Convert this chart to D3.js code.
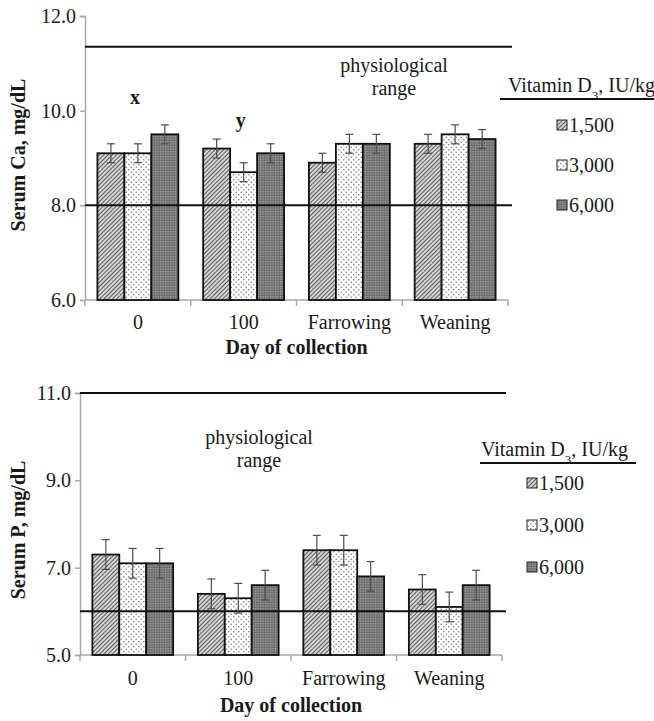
<!DOCTYPE html>
<html>
<head>
<meta charset="utf-8">
<script src="https://cdn.jsdelivr.net/npm/d3@7"></script>
<style>
  body { margin: 0; background: #fff; }
  svg text { font-family: 'Liberation Serif', 'Times New Roman', serif; fill: #1a1a1a; }
  .axis path, .axis line { stroke: #a9a9a9; stroke-width: 1.5; }
  .bold { font-weight: bold; }
</style>
</head>
<body>
<svg id="chart" width="654" height="721"></svg>
<script>
// ---- data ----
const categories = ["0", "100", "Farrowing", "Weaning"];
const doses = ["1,500", "3,000", "6,000"];

// serum Ca, mg/dL (rows = day, cols = dose)
const caMeans = [[9.1, 9.1, 9.5], [9.2, 8.7, 9.1], [8.9, 9.3, 9.3], [9.3, 9.5, 9.4]];
const caErrors = [[0.2, 0.2, 0.2], [0.2, 0.2, 0.2], [0.2, 0.2, 0.2], [0.2, 0.2, 0.2]];
const caTicks = [6, 8, 10, 12];
const caRange = [8.0, 11.35];
const caLetters = [["0", "x", 10.15], ["100", "y", 9.65]];

// serum P, mg/dL
const pMeans = [[7.3, 7.1, 7.1], [6.4, 6.3, 6.6], [7.4, 7.4, 6.8], [6.5, 6.1, 6.6]];
const pErrors = [[0.34, 0.34, 0.34], [0.34, 0.34, 0.34], [0.34, 0.34, 0.34], [0.34, 0.34, 0.34]];
const pTicks = [5, 7, 9, 11];
const pRange = [6.0, 11.0];
const pLetters = [];

const patternIds = ["p1500", "p3000", "p6000"];
const fs = "20px";

const svg = d3.select("#chart");

// ---- fill patterns ----
const defs = svg.append("defs");

const p1 = defs.append("pattern").attr("id", "p1500")
  .attr("patternUnits", "userSpaceOnUse").attr("width", 3).attr("height", 3)
  .attr("patternTransform", "rotate(45)");
p1.append("rect").attr("width", 3).attr("height", 3).attr("fill", "#d4d4d4");
p1.append("line").attr("x1", 0.5).attr("y1", 0).attr("x2", 0.5).attr("y2", 3)
  .attr("stroke", "#5e5e5e").attr("stroke-width", 1);

const p2 = defs.append("pattern").attr("id", "p3000")
  .attr("patternUnits", "userSpaceOnUse").attr("width", 5).attr("height", 5);
p2.append("rect").attr("width", 5).attr("height", 5).attr("fill", "#fff");
p2.append("circle").attr("cx", 1.25).attr("cy", 1.25).attr("r", 0.8).attr("fill", "#808080");
p2.append("circle").attr("cx", 3.75).attr("cy", 3.75).attr("r", 0.8).attr("fill", "#808080");

const p3 = defs.append("pattern").attr("id", "p6000")
  .attr("patternUnits", "userSpaceOnUse").attr("width", 2.5).attr("height", 2.5);
p3.append("rect").attr("width", 2.5).attr("height", 2.5).attr("fill", "#6e6e6e");
p3.append("rect").attr("x", 0).attr("y", 0).attr("width", 1.2).attr("height", 1.2).attr("fill", "#a8a8a8");

// ---- one panel ----
function drawPanel(opt) {
  const g = svg.append("g").attr("transform", "translate(" + opt.left + "," + opt.top + ")");
  const w = opt.width, h = opt.height;

  const x0 = d3.scaleBand().domain(categories).range([0, w]);
  const x1 = d3.scaleBand().domain(doses).range([0, x0.bandwidth()]).paddingOuter(0.46);
  const y = d3.scaleLinear().domain([opt.ticks[0], opt.ticks[opt.ticks.length - 1]]).range([h, 0]);

  // y axis
  const ya = g.append("g").attr("class", "axis")
    .call(d3.axisLeft(y).tickValues(opt.ticks).tickFormat(d3.format(".1f")).tickSize(5).tickPadding(4));
  ya.selectAll("text").style("font-size", fs).attr("fill", "#1a1a1a");

  // x axis: labels, baseline and category boundary ticks
  const xa = g.append("g").attr("class", "axis").attr("transform", "translate(0," + h + ")")
    .call(d3.axisBottom(x0).tickSize(0).tickPadding(opt.catPad));
  xa.select(".domain").attr("d", "M0,0H" + w);
  xa.selectAll("text").style("font-size", fs).attr("fill", "#1a1a1a");
  xa.selectAll("line.bound")
    .data(categories.map(c => x0(c)).concat([w]))
    .join("line").attr("class", "bound")
    .attr("x1", d => d).attr("x2", d => d).attr("y1", 0).attr("y2", 6);

  // bars
  const rows = categories.flatMap((c, i) => doses.map((d, j) => ({
    cat: c, dose: d, j: j, mean: opt.means[i][j], err: opt.errors[i][j]
  })));

  g.append("g").selectAll("rect")
    .data(rows).join("rect")
    .attr("x", d => x0(d.cat) + x1(d.dose))
    .attr("y", d => y(d.mean))
    .attr("width", x1.bandwidth())
    .attr("height", d => h - y(d.mean))
    .attr("fill", d => "url(#" + patternIds[d.j] + ")")
    .attr("stroke", "#111").attr("stroke-width", 1.8);

  // physiological range lines
  g.append("g").selectAll("line")
    .data(opt.range).join("line")
    .attr("x1", 0).attr("x2", w + 4)
    .attr("y1", d => y(d)).attr("y2", d => y(d))
    .attr("stroke", "#111").attr("stroke-width", 2);

  // error bars
  const eb = g.append("g").attr("stroke", "#4d4d4d").attr("stroke-width", 1.2);
  const cx = d => x0(d.cat) + x1(d.dose) + x1.bandwidth() / 2;
  eb.selectAll("line.v").data(rows).join("line").attr("class", "v")
    .attr("x1", cx).attr("x2", cx)
    .attr("y1", d => y(d.mean - d.err)).attr("y2", d => y(d.mean + d.err));
  [-1, 1].forEach(s => {
    eb.selectAll("line.c" + (s + 1)).data(rows).join("line").attr("class", "c" + (s + 1))
      .attr("x1", d => cx(d) - 4).attr("x2", d => cx(d) + 4)
      .attr("y1", d => y(d.mean + s * d.err)).attr("y2", d => y(d.mean + s * d.err));
  });

  // significance letters
  g.selectAll("text.letter").data(opt.letters).join("text").attr("class", "letter bold")
    .attr("x", d => x0(d[0]) + x0.bandwidth() / 2 - 3)
    .attr("y", d => y(d[2]))
    .attr("text-anchor", "middle").style("font-size", fs)
    .text(d => d[1]);

  // "physiological range" label
  const rl = g.append("text").attr("text-anchor", "middle").style("font-size", fs)
    .attr("transform", "translate(" + opt.rangeLabel[0] + "," + opt.rangeLabel[1] + ")");
  rl.append("tspan").attr("x", 0).attr("dy", 0).text("physiological");
  rl.append("tspan").attr("x", 0).attr("dy", 23).text("range");

  // axis titles
  g.append("text").attr("class", "bold")
    .attr("transform", "translate(" + (18 - opt.left) + "," + opt.yTitleY + ") rotate(-90)")
    .attr("text-anchor", "middle").attr("dominant-baseline", "central")
    .style("font-size", fs).text(opt.yTitle);

  g.append("text").attr("class", "bold")
    .attr("x", w / 2).attr("y", h + opt.xTitleDy)
    .attr("text-anchor", "middle").style("font-size", fs)
    .text("Day of collection");

  // legend
  const lg = svg.append("g").attr("transform", "translate(" + opt.legend.x + "," + opt.legend.y + ")");
  const title = lg.append("text").style("font-size", fs).attr("x", opt.legend.titleX).attr("y", 0);
  title.append("tspan").text("Vitamin D");
  title.append("tspan").attr("baseline-shift", "sub").style("font-size", "13px").text("3");
  title.append("tspan").text(", IU/kg");
  lg.append("line").attr("x1", 0).attr("x2", opt.legend.lineW).attr("y1", 7).attr("y2", 7)
    .attr("stroke", "#111").attr("stroke-width", 2);

  const items = lg.selectAll("g.item").data(doses).join("g").attr("class", "item")
    .attr("transform", (d, i) => "translate(" + opt.legend.swatchX + "," + (opt.legend.first + i * opt.legend.step) + ")");
  items.append("rect").attr("x", 0).attr("y", -5).attr("width", 10).attr("height", 10)
    .attr("fill", (d, i) => "url(#" + patternIds[i] + ")").attr("stroke", "#222").attr("stroke-width", 1);
  items.append("text").attr("x", 12).attr("y", 0).attr("dominant-baseline", "central")
    .style("font-size", fs).text(d => d);
}

drawPanel({
  left: 85, top: 16, width: 423, height: 284,
  means: caMeans, errors: caErrors, ticks: caTicks, range: caRange, letters: caLetters,
  yTitle: "Serum Ca, mg/dL", yTitleY: 139, catPad: 15, xTitleDy: 54,
  rangeLabel: [309, 56],
  legend: { x: 500, y: 92, titleX: 8, lineW: 160, swatchX: 57, first: 33, step: 40 }
});

drawPanel({
  left: 80, top: 393, width: 422, height: 262,
  means: pMeans, errors: pErrors, ticks: pTicks, range: pRange, letters: pLetters,
  yTitle: "Serum P, mg/dL", yTitleY: 137, catPad: 16, xTitleDy: 57,
  rangeLabel: [179, 51],
  legend: { x: 480, y: 456, titleX: 1, lineW: 156, swatchX: 47, first: 27, step: 42 }
});
</script>
</body>
</html>
